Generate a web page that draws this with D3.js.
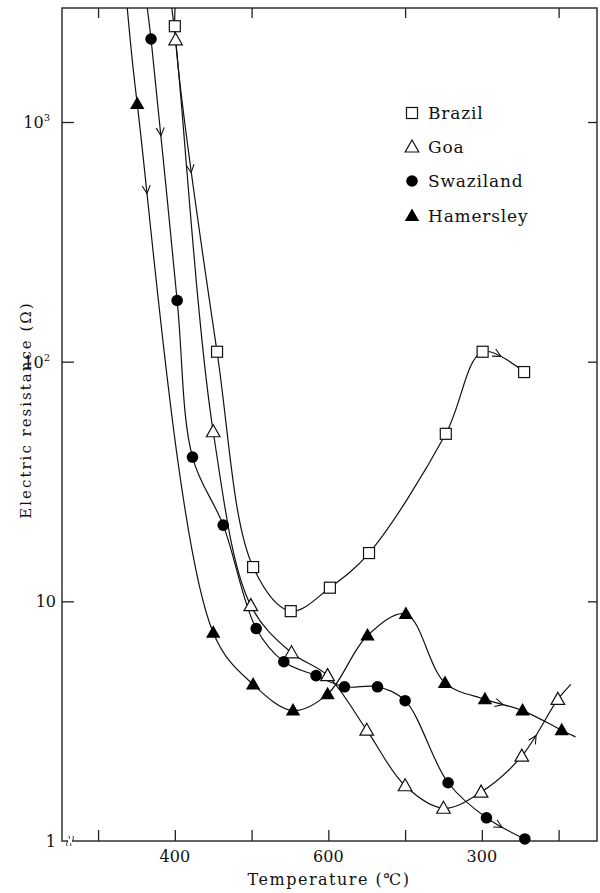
<!DOCTYPE html>
<html><head><meta charset="utf-8">
<script src="https://cdn.jsdelivr.net/npm/d3@7"></script>
<style>
body{margin:0;background:#fff}
svg{display:block}
text{font-family:"DejaVu Serif",serif;fill:#111}
</style>
</head><body>
<svg id="c" width="600" height="893"></svg>
<script>
// ---- data (temperature in °C, electric resistance in Ω) ----
const seriesNames = ["Brazil", "Goa", "Swaziland", "Hamersley"];
const brazilT = [400, 455, 502, 551, 602, 653, 753, 801, 855];
const brazilR = [2510, 110, 13.9, 9.1, 11.4, 15.9, 50, 110, 90.5];
const goaT = [401, 450, 499, 552, 599, 650, 700, 750, 799, 852, 899];
const goaR = [2200, 51, 9.6, 6.1, 4.9, 2.9, 1.70, 1.37, 1.60, 2.26, 3.9];
const swazilandT = [369, 403, 423, 463, 506, 542, 584, 621, 664, 700, 756, 806, 856];
const swazilandR = [2220, 180, 40, 20.8, 7.7, 5.6, 4.9, 4.4, 4.4, 3.85, 1.75, 1.25, 1.02];
const hamersleyT = [351, 450, 502, 554, 599, 651, 701, 752, 804, 853, 904];
const hamersleyR = [1190, 7.4, 4.5, 3.5, 4.1, 7.2, 8.85, 4.56, 3.9, 3.5, 2.9];
// curve continuations beyond the first / last measured points
const leadT = [403, 393, 361, 336];
const leadR = [3600, 3550, 3550, 3550];
const tailT = [null, 916, null, 922];
const tailR = [null, 4.5, null, 2.72];
// direction arrows along the curves
const arrowSeries = ["Hamersley", "Swaziland", "Brazil", "Brazil", "Hamersley", "Goa", "Swaziland"];
const arrowT = [370, 379, 427, 825, 827, 869, 826];
const arrowR = [505, 873, 618, 106, 3.62, 2.77, 1.14];
// axes
const xTicks = [300, 400, 500, 600, 700, 800, 900];
const xTopTicks = [300, 500, 700, 900];
const xLabelValues = [400, 600, 800];
const xLabelTexts = ["400", "600", "300"];
const yTicks = [1, 10, 100, 1000];
const yLabelBase = ["1", "10", "10", "10"];
const yLabelExp = ["", "", "2", "3"];

const svg = d3.select("#c");
const L = 62, R = 597, T = 8, B = 841;
const x = d3.scaleLinear().domain([253, 950]).range([L, R]);
const y = d3.scaleLog().domain([1, 2990]).range([B, T]);

svg.append("defs").append("clipPath").attr("id", "clip")
  .append("rect").attr("x", L).attr("y", T).attr("width", R - L).attr("height", B - T);

// frame
svg.append("rect").attr("x", L).attr("y", T).attr("width", R - L).attr("height", B - T)
  .attr("fill", "none").attr("stroke", "#222").attr("stroke-width", 1.4);

// axes ticks (inward)
const gB = svg.append("g").attr("transform", `translate(0,${B})`)
  .call(d3.axisBottom(x).tickValues(xTicks).tickSizeInner(-11).tickSizeOuter(0).tickFormat(""));
const gT = svg.append("g").attr("transform", `translate(0,${T})`)
  .call(d3.axisTop(x).tickValues(xTopTicks).tickSizeInner(-10).tickSizeOuter(0).tickFormat(""));
const gL = svg.append("g").attr("transform", `translate(${L},0)`)
  .call(d3.axisLeft(y).tickValues(yTicks.slice(1)).tickSizeInner(-12).tickSizeOuter(0).tickFormat(""));
const gR = svg.append("g").attr("transform", `translate(${R},0)`)
  .call(d3.axisRight(y).tickValues(yTicks.slice(1)).tickSizeInner(-9).tickSizeOuter(0).tickFormat(""));
[gB, gT, gL, gR].forEach(g => {
  g.select(".domain").remove();
  g.selectAll("line").attr("stroke", "#222").attr("stroke-width", 1.3);
});

// x labels
svg.append("g").selectAll("text").data(xLabelValues).join("text")
  .attr("x", d => x(d)).attr("y", B + 21).attr("text-anchor", "middle")
  .attr("font-size", 16).text((d, i) => xLabelTexts[i]);
// y labels
const yl = svg.append("g").selectAll("text").data(yTicks).join("text")
  .attr("x", (d, i) => yLabelExp[i] ? L - 12 : L - 6).attr("y", d => y(d) + 6)
  .attr("text-anchor", "end").attr("font-size", 16);
yl.append("tspan").text((d, i) => yLabelBase[i]);
yl.append("tspan").attr("dy", -7).attr("font-size", 10).text((d, i) => yLabelExp[i]);

// axis break mark
const brk = svg.append("g").attr("fill", "none").attr("stroke", "#222").attr("stroke-width", 1);
[0, 4].forEach(o => {
  brk.append("path").attr("d", `M${L + 5 + o},${B + 5} C${L + 3 + o},${B + 1} ${L + 9 + o},${B - 1} ${L + 7 + o},${B - 5}`);
});
svg.append("rect").attr("x", L + 6).attr("y", B - 2).attr("width", 4).attr("height", 4).attr("fill", "#fff");

// axis titles
svg.append("text").attr("x", 329).attr("y", 885).attr("text-anchor", "middle")
  .attr("font-size", 16).attr("letter-spacing", 1.5).text("Temperature (℃)");
svg.append("text").attr("transform", "translate(31,410) rotate(-90)").attr("text-anchor", "middle")
  .attr("font-size", 15).attr("letter-spacing", 2).text("Electric resistance (Ω)");

// series
const allT = [brazilT, goaT, swazilandT, hamersleyT];
const allR = [brazilR, goaR, swazilandR, hamersleyR];
const series = seriesNames.map((name, i) => {
  const pts = allT[i].map((t, j) => [t, allR[i][j]]);
  const curve = [[leadT[i], leadR[i]], ...pts];
  if (tailT[i] != null) curve.push([tailT[i], tailR[i]]);
  return { name, pts, curve };
});
const line = d3.line().x(d => x(d[0])).y(d => y(d[1])).curve(d3.curveCatmullRom.alpha(0.5));
const gLines = svg.append("g").attr("clip-path", "url(#clip)");
const pathNodes = {};
series.forEach(s => {
  pathNodes[s.name] = gLines.append("path").attr("d", line(s.curve))
    .attr("fill", "none").attr("stroke", "#111").attr("stroke-width", 1.2).node();
});

// arrows
arrowSeries.forEach((name, k) => {
  const p = pathNodes[name];
  const tx = x(arrowT[k]), ty = y(arrowR[k]);
  const Ltot = p.getTotalLength();
  let best = 0, bd = Infinity;
  for (let l = 0; l <= Ltot; l += 0.5) {
    const q = p.getPointAtLength(l);
    const d = (q.x - tx) ** 2 + (q.y - ty) ** 2;
    if (d < bd) { bd = d; best = l; }
  }
  const a = p.getPointAtLength(Math.max(0, best - 3)), b = p.getPointAtLength(Math.min(Ltot, best + 3));
  const c = p.getPointAtLength(best);
  const ang = Math.atan2(b.y - a.y, b.x - a.x) * 180 / Math.PI;
  svg.append("path").attr("d", "M-8,-4 L0,0 L-8,4")
    .attr("transform", `translate(${c.x},${c.y}) rotate(${ang})`)
    .attr("fill", "none").attr("stroke", "#111").attr("stroke-width", 1.1);
});

// markers
const shapes = {
  Brazil: g => g.append("rect").attr("x", -5.5).attr("y", -5.5).attr("width", 11).attr("height", 11)
    .attr("fill", "#fff").attr("stroke", "#111").attr("stroke-width", 1.2),
  Goa: g => g.append("path").attr("d", "M0,-7L6.8,5L-6.8,5Z")
    .attr("fill", "#fff").attr("stroke", "#111").attr("stroke-width", 1.2),
  Swaziland: g => g.append("circle").attr("r", 5.8).attr("fill", "#000"),
  Hamersley: g => g.append("path").attr("d", "M0,-7.5L7.2,5L-7.2,5Z").attr("fill", "#000")
};
series.forEach(s => {
  svg.append("g").selectAll("g").data(s.pts).join("g")
    .attr("transform", d => `translate(${x(d[0])},${y(d[1])})`)
    .each(function () { shapes[s.name](d3.select(this)); });
});

// legend
const legY = [113, 147, 181, 216];
seriesNames.forEach((n, i) => {
  const g = svg.append("g").attr("transform", `translate(412,${legY[i]})`);
  shapes[n](g);
  svg.append("text").attr("x", 428).attr("y", legY[i] + 6).attr("font-size", 17)
    .attr("letter-spacing", 0.8).text(n);
});
</script>
</body></html>
